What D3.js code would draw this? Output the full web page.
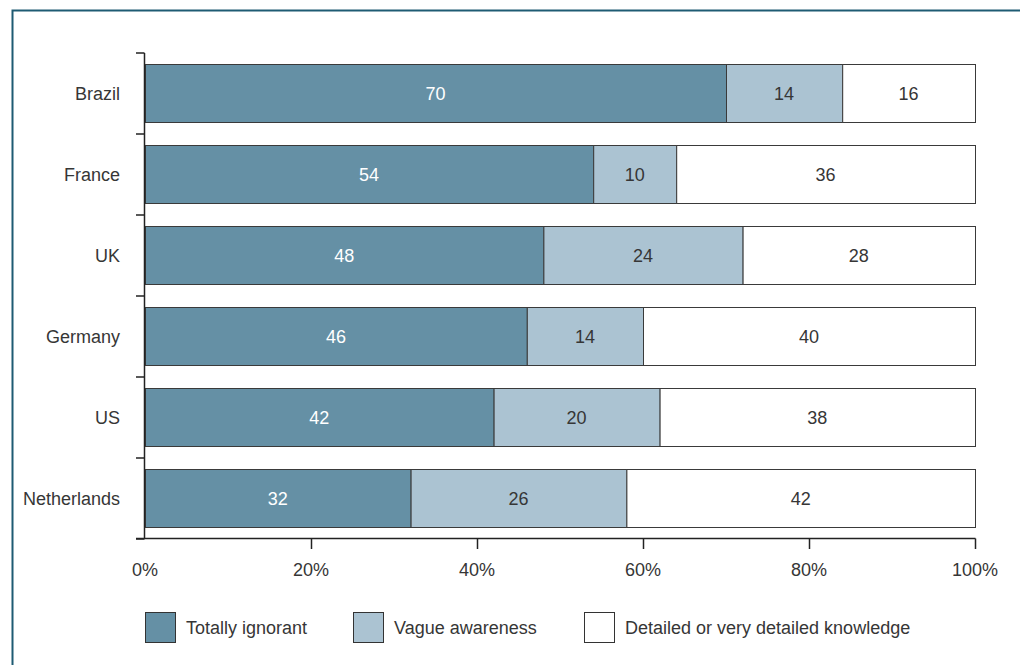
<!DOCTYPE html>
<html>
<head>
<meta charset="utf-8">
<script src="https://cdn.jsdelivr.net/npm/d3@7"></script>
<style>
  body { margin: 0; background: #fff; }
  svg { display: block; font-family: "Liberation Sans", Arial, sans-serif; }
</style>
</head>
<body>
<div id="chart"></div>
<script>
// Data
const countries = ['Brazil', 'France', 'UK', 'Germany', 'US', 'Netherlands'];
const ignorant = [70, 54, 48, 46, 42, 32];
const vague = [14, 10, 24, 14, 20, 26];
const detailed = [16, 36, 28, 40, 38, 42];
const seriesNames = ['Totally ignorant', 'Vague awareness', 'Detailed or very detailed knowledge'];
const xTicks = [0, 20, 40, 60, 80, 100];

const width = 1020, height = 665;
const colors = ['#6590a5', '#abc3d2', '#ffffff'];
const labelColors = ['#ffffff', '#363636', '#363636'];
const fontSize = '18px';

const svg = d3.select('#chart')
  .append('svg')
  .attr('width', width)
  .attr('height', height);

// Frame (top and left lines)
svg.append('path')
  .attr('d', `M12.5,${height} L12.5,10.5 L${width},10.5`)
  .attr('fill', 'none')
  .attr('stroke', '#1e5b73')
  .attr('stroke-width', 2);

const x = d3.scaleLinear().domain([0, 100]).range([145, 975]);
const y = d3.scaleBand().domain(countries).range([53, 539])
  .paddingInner(0.284).paddingOuter(0.142);

// Stack the series
const rows = countries.map((c, i) => ({ country: c, a: ignorant[i], b: vague[i], c: detailed[i] }));
const stacked = d3.stack().keys(['a', 'b', 'c'])(rows);

const layers = svg.selectAll('.layer')
  .data(stacked)
  .enter()
  .append('g')
  .attr('class', 'layer');

layers.selectAll('rect')
  .data((d, i) => d.map(s => ({ s, i })))
  .enter()
  .append('rect')
  .attr('x', d => x(d.s[0]) + 0.5)
  .attr('y', d => Math.floor(y(d.s.data.country)) + 0.5)
  .attr('width', d => x(d.s[1]) - x(d.s[0]))
  .attr('height', Math.round(y.bandwidth()))
  .attr('fill', d => colors[d.i])
  .attr('stroke', '#3a3a3a')
  .attr('stroke-width', 1);

layers.selectAll('text')
  .data((d, i) => d.map(s => ({ s, i })))
  .enter()
  .append('text')
  .attr('x', d => (x(d.s[0]) + x(d.s[1])) / 2)
  .attr('y', d => y(d.s.data.country) + y.bandwidth() / 2)
  .attr('dy', '0.35em')
  .attr('text-anchor', 'middle')
  .attr('font-size', fontSize)
  .attr('fill', d => labelColors[d.i])
  .text(d => d.s[1] - d.s[0]);

// Y axis: line with ticks at band boundaries
const boundaries = countries.map(c => y(c) - y.step() * y.paddingInner() / 2);
boundaries.push(y.range()[1]);
const yAxis = svg.append('g').attr('stroke', '#222').attr('stroke-width', 1.5);
yAxis.append('line')
  .attr('x1', 144.5).attr('x2', 144.5)
  .attr('y1', boundaries[0]).attr('y2', boundaries[boundaries.length - 1]);
yAxis.selectAll('.ytick')
  .data(boundaries)
  .enter()
  .append('line')
  .attr('x1', 136).attr('x2', 144.5)
  .attr('y1', d => Math.round(d)).attr('y2', d => Math.round(d));

svg.selectAll('.ylabel')
  .data(countries)
  .enter()
  .append('text')
  .attr('x', 120)
  .attr('y', d => y(d) + y.bandwidth() / 2)
  .attr('dy', '0.35em')
  .attr('text-anchor', 'end')
  .attr('font-size', fontSize)
  .attr('fill', '#363636')
  .text(d => d);

// X axis
const xAxisY = 538.5;
const xAxis = svg.append('g').attr('stroke', '#222').attr('stroke-width', 1.5);
xAxis.append('line')
  .attr('x1', 136).attr('x2', x(100) + 0.5)
  .attr('y1', xAxisY).attr('y2', xAxisY);
xAxis.selectAll('.xtick')
  .data(xTicks.slice(1))
  .enter()
  .append('line')
  .attr('x1', d => Math.round(x(d)) + 0.5).attr('x2', d => Math.round(x(d)) + 0.5)
  .attr('y1', xAxisY).attr('y2', 549);

svg.selectAll('.xlabel')
  .data(xTicks)
  .enter()
  .append('text')
  .attr('x', d => x(d))
  .attr('y', 570)
  .attr('dy', '0.35em')
  .attr('text-anchor', 'middle')
  .attr('font-size', fontSize)
  .attr('fill', '#363636')
  .text(d => d + '%');

// Legend
const legendX = [145, 353, 584];
const legend = svg.selectAll('.legend')
  .data(seriesNames)
  .enter()
  .append('g')
  .attr('transform', (d, i) => `translate(${legendX[i]},612)`);

legend.append('rect')
  .attr('x', 0.5).attr('y', 0.5)
  .attr('width', 30).attr('height', 30)
  .attr('fill', (d, i) => colors[i])
  .attr('stroke', '#333')
  .attr('stroke-width', 1);

legend.append('text')
  .attr('x', 41)
  .attr('y', 16)
  .attr('dy', '0.35em')
  .attr('font-size', fontSize)
  .attr('fill', '#363636')
  .text(d => d);
</script>
</body>
</html>
